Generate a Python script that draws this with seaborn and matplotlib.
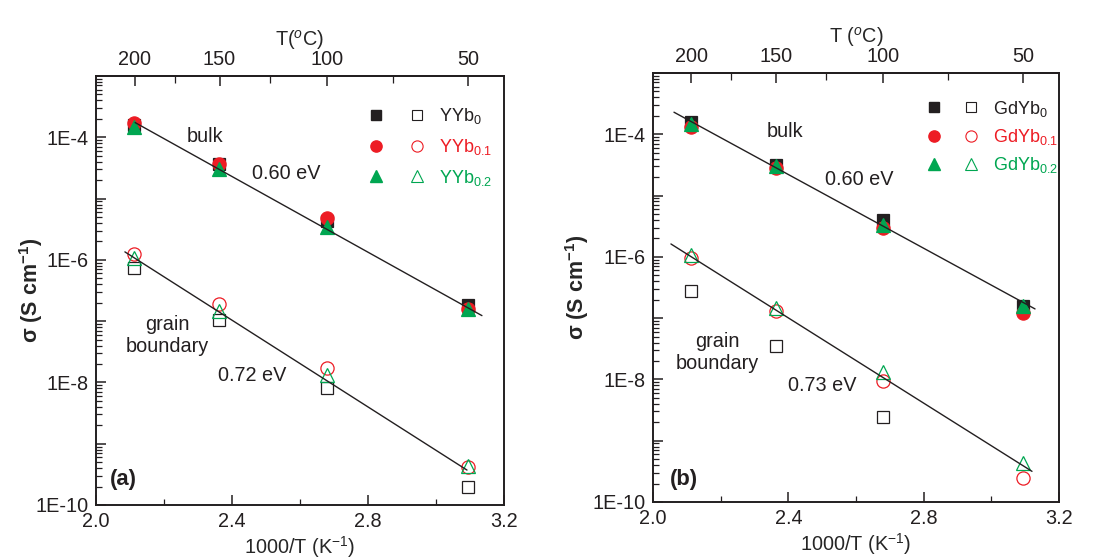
import numpy as np
import seaborn as sns
import matplotlib.pyplot as plt
from matplotlib.lines import Line2D
from matplotlib.legend_handler import HandlerTuple
from matplotlib.ticker import FixedLocator, FuncFormatter, NullFormatter

sns.set_theme(style="white")
plt.rcParams['font.family'] = ['Liberation Sans', 'DejaVu Sans']
plt.rcParams['mathtext.fontset'] = 'custom'
plt.rcParams['mathtext.rm'] = 'Liberation Sans'
plt.rcParams['mathtext.it'] = 'Liberation Sans:italic'
plt.rcParams['mathtext.bf'] = 'Liberation Sans:bold'

# 1000/T at 200, 150, 100, 50 C
inv_T = [2.113, 2.363, 2.680, 3.094]

# panel (a) YYb series, sigma in S/cm
a_bulk_0 = [1.6e-4, 3.6e-5, 4.3e-6, 1.8e-7]
a_bulk_01 = [1.74e-4, 3.7e-5, 4.8e-6, 1.6e-7]
a_bulk_02 = [1.45e-4, 3.0e-5, 3.5e-6, 1.55e-7]
a_gb_0 = [7.4e-7, 1.03e-7, 8.0e-9, 1.95e-10]
a_gb_01 = [1.26e-6, 1.9e-7, 1.7e-8, 4.1e-10]
a_gb_02 = [1.07e-6, 1.47e-7, 1.3e-8, 4.3e-10]

# panel (b) GdYb series
b_bulk_0 = [1.6e-4, 3.2e-5, 4.0e-6, 1.6e-7]
b_bulk_01 = [1.3e-4, 2.8e-5, 2.95e-6, 1.23e-7]
b_bulk_02 = [1.45e-4, 3.0e-5, 3.3e-6, 1.55e-7]
b_gb_0 = [2.8e-7, 3.5e-8, 2.4e-9, np.nan]
b_gb_01 = [9.5e-7, 1.3e-7, 9.5e-9, 2.5e-10]
b_gb_02 = [1.07e-6, 1.48e-7, 1.3e-8, 4.3e-10]

# Arrhenius fit lines: (x start, x end), (log sigma start, log sigma end)
a_bulk_fit = ([2.115, 3.135], [-3.76, -6.91])
a_gb_fit = ([2.085, 3.091], [-5.87, -9.43])
b_bulk_fit = ([2.062, 3.129], [-3.64, -6.85])
b_gb_fit = ([2.053, 3.120], [-5.79, -9.50])

a_names = ['YYb$_0$', 'YYb$_{0.1}$', 'YYb$_{0.2}$']
b_names = ['GdYb$_0$', 'GdYb$_{0.1}$', 'GdYb$_{0.2}$']
colors = ['#231F20', '#ED1C24', '#00A651']
markers = ['s', 'o', '^']
msizes = [8, 9.5, 9.5]

FS = 14.3
INK = '#231F20'

decades = np.arange(-10, -2)
minor_y = [m * 10.0 ** d for d in decades[:-1] for m in range(2, 10)]


def draw_panel(ax, bulk, gb, fits, names, tlabel, letter, texts, leg, ylab_x):
    for y, c, m, ms in zip(gb, colors, markers, msizes):
        sns.lineplot(x=inv_T, y=y, ax=ax, marker=m, linestyle='', markersize=ms,
                     markerfacecolor='none', markeredgecolor=c, markeredgewidth=0.9,
                     color=c, legend=False)
    for y, c, m, ms in zip(bulk, colors, markers, msizes):
        sns.lineplot(x=inv_T, y=y, ax=ax, marker=m, linestyle='', markersize=ms,
                     markerfacecolor=c, markeredgecolor=c, markeredgewidth=0.9,
                     color=c, legend=False)
    for fx, fl in fits:
        sns.lineplot(x=fx, y=10 ** np.array(fl), ax=ax, color=INK, lw=1.0)

    ax.set_yscale('log')
    ax.set_xlim(2.0, 3.2)
    ax.set_ylim(1e-10, 1e-3)
    ax.set_xticks([2.0, 2.4, 2.8, 3.2])
    ax.set_xticklabels(['2.0', '2.4', '2.8', '3.2'])
    ax.set_xticks([2.2, 2.6, 3.0], minor=True)
    ax.yaxis.set_major_locator(FixedLocator(10.0 ** decades))
    ax.yaxis.set_minor_locator(FixedLocator(minor_y))
    ax.yaxis.set_minor_formatter(NullFormatter())
    ax.yaxis.set_major_formatter(FuncFormatter(
        lambda v, p: '1E%d' % round(np.log10(v)) if round(np.log10(v)) % 2 == 0 else ''))
    ax.tick_params(which='both', direction='in', top=False, right=False,
                   left=True, bottom=True, labelsize=FS, colors=INK, pad=5)
    ax.tick_params(which='major', length=7, width=1.1)
    ax.tick_params(which='minor', length=4.5, width=0.9)
    for s in ax.spines.values():
        s.set_color(INK)
        s.set_linewidth(1.4)
    ax.grid(False)

    ax.set_xlabel('1000/T (K$^{-1}$)', fontsize=FS, labelpad=2)
    ax.set_ylabel('σ (S cm$^{\\mathbf{-1}}$)', fontsize=FS + 1.2, fontweight='bold')
    ax.yaxis.set_label_coords(ylab_x, 0.5)

    top = ax.secondary_xaxis('top', functions=(lambda x: 1000.0 / x - 273.15,
                                               lambda t: 1000.0 / (t + 273.15)))
    top.set_xticks([200, 150, 100, 50])
    top.set_xticklabels(['200', '150', '100', '50'])
    top.set_xticks([175, 125, 75], minor=True)
    top.tick_params(which='both', direction='in', labelsize=FS, colors=INK, pad=5)
    top.tick_params(which='major', length=7, width=1.1)
    top.tick_params(which='minor', length=5, width=0.9)
    top.set_xlabel(tlabel, fontsize=FS, labelpad=3)

    for (tx, ty, s) in texts:
        ax.text(tx, 10 ** ty, s, fontsize=FS, ha='center', va='center', color=INK,
                linespacing=1.2)
    ax.text(letter[0], 10 ** letter[1], letter[2], fontsize=FS + 1.5, fontweight='bold',
            ha='center', va='center', color=INK)

    handles = []
    for c, m, ms in zip(colors, markers, msizes):
        f = Line2D([], [], marker=m, linestyle='', markersize=ms * 0.85,
                   markerfacecolor=c, markeredgecolor=c)
        o = Line2D([], [], marker=m, linestyle='', markersize=ms * 0.85,
                   markerfacecolor='none', markeredgecolor=c, markeredgewidth=0.8)
        handles.append((f, o))
    anchor, pad, hl, spacing = leg
    ax.legend(handles, names, handler_map={tuple: HandlerTuple(ndivide=None, pad=pad)},
              loc='upper left', bbox_to_anchor=anchor, frameon=False,
              fontsize=13, handlelength=hl, handletextpad=0.75,
              labelspacing=spacing, borderpad=0, borderaxespad=0, labelcolor=colors)


fig = plt.figure(figsize=(11.01, 5.58), dpi=100)
ax1 = fig.add_axes([0.0872, 0.0950, 0.3706, 0.7688])
ax2 = fig.add_axes([0.5931, 0.1004, 0.3688, 0.7688])

draw_panel(ax1, [a_bulk_0, a_bulk_01, a_bulk_02], [a_gb_0, a_gb_01, a_gb_02],
           [a_bulk_fit, a_gb_fit], a_names, 'T($^{o}$C)', (2.08, -9.59, '(a)'),
           [(2.32, -3.98, 'bulk'), (2.56, -4.59, '0.60 eV'),
            (2.21, -7.24, 'grain\nboundary'), (2.46, -7.89, '0.72 eV')],
           ((0.665, 0.93), 1.3, 3.2, 0.6), -0.125)
draw_panel(ax2, [b_bulk_0, b_bulk_01, b_bulk_02], [b_gb_0, b_gb_01, b_gb_02],
           [b_bulk_fit, b_gb_fit], b_names, 'T ($^{o}$C)', (2.09, -9.64, '(b)'),
           [(2.39, -3.95, 'bulk'), (2.61, -4.73, '0.60 eV'),
            (2.19, -7.56, 'grain\nboundary'), (2.50, -8.10, '0.73 eV')],
           ((0.67, 0.94), 1.1, 3.0, 0.45), -0.152)

fig.savefig('out.png', dpi=100)
